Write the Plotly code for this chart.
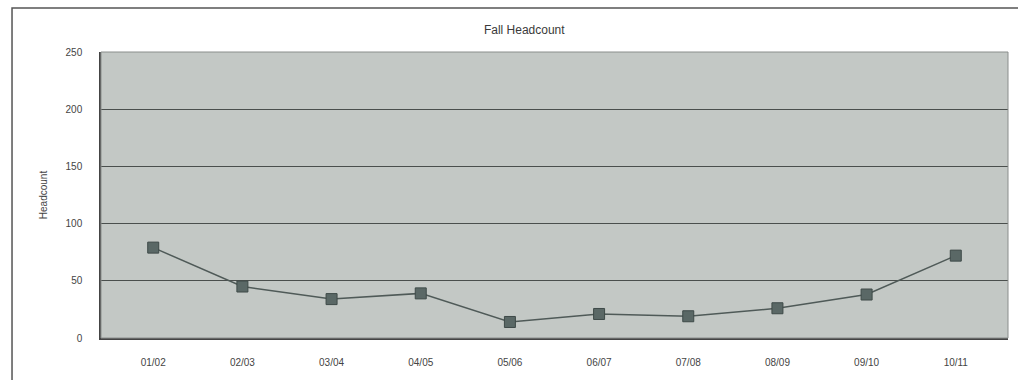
import plotly.graph_objects as go

years = ["01/02", "02/03", "03/04", "04/05", "05/06", "06/07", "07/08", "08/09", "09/10", "10/11"]
headcount = [79, 45, 34, 39, 14, 21, 19, 26, 38, 72]
y_ticks = [0, 50, 100, 150, 200, 250]

fig = go.Figure()
fig.add_trace(go.Scatter(
    x=years, y=headcount, mode="lines+markers",
    line=dict(color="#4f5a58", width=1.5),
    marker=dict(symbol="square", size=11, color="#5a6866",
                line=dict(color="#3e4a48", width=1)),
    showlegend=False,
))

fig.update_layout(
    width=1018, height=380,
    margin=dict(l=101, r=10, t=52, b=42),
    paper_bgcolor="white",
    plot_bgcolor="#c3c8c5",
    font=dict(family="Liberation Sans, Arial, sans-serif", size=10, color="#444444"),
    title=dict(text="Fall Headcount", x=0.515, xanchor="center", y=0.922, yanchor="middle",
               font=dict(size=12, color="#3a3a3a")),
    xaxis=dict(showgrid=False, showline=True, linecolor="#444444", linewidth=1.5,
               ticks="", ticklabelstandoff=14, tickfont=dict(size=10, color="#444444"),
               zeroline=False),
    yaxis=dict(range=[0, 250], tickvals=y_ticks, showgrid=True, gridcolor="#4a4f4d",
               gridwidth=1.2, showline=True, linecolor="#444444", linewidth=1.5,
               ticks="", ticklabelstandoff=15, zeroline=False,
               tickfont=dict(size=10, color="#444444"),
               title=dict(text="Headcount", standoff=16, font=dict(size=10, color="#444444"))),
    shapes=[
        dict(type="rect", xref="paper", yref="paper", x0=0, x1=1, y0=0, y1=1,
             line=dict(color="#8a8e8c", width=1), layer="above"),
        dict(type="rect", xref="paper", yref="paper", x0=-0.0981, x1=1.03,
             y0=-0.16, y1=1.1538, line=dict(color="#555555", width=1.5)),
    ],
)

fig.write_html("out.html")
